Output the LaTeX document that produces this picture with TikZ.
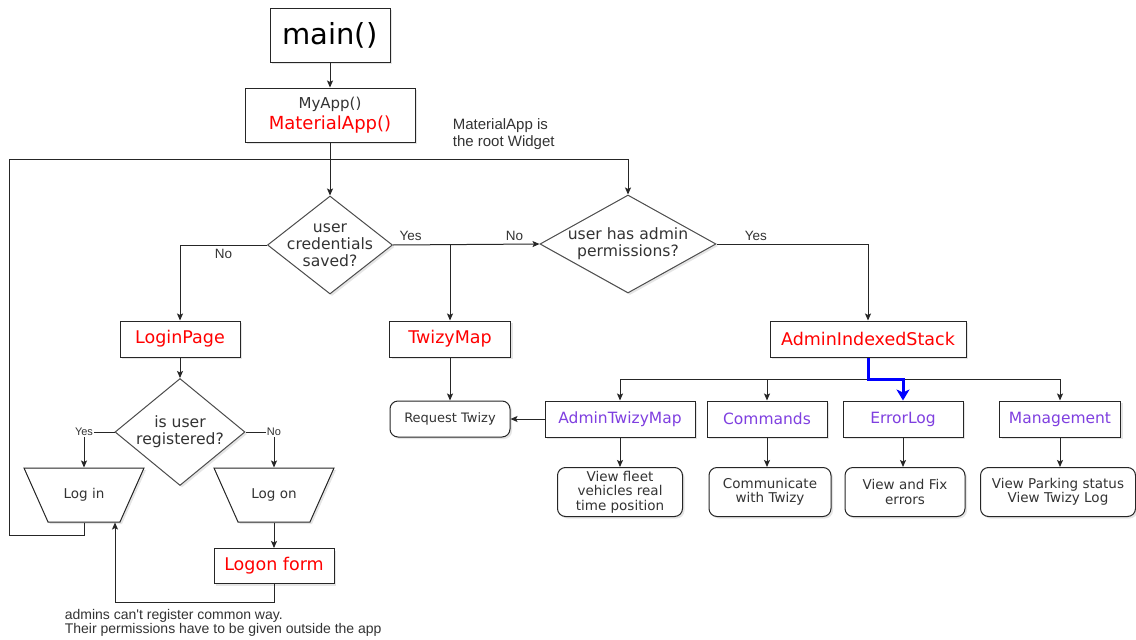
\documentclass[tikz,border=0pt]{standalone}
\usepackage{fontspec}
\setmainfont{DejaVu Sans}
\newfontfamily\notefont{Liberation Sans}
\usepackage{tikz}
\usetikzlibrary{calc,positioning,arrows.meta,shapes.geometric,shadows}
\definecolor{appRed}{HTML}{FF0000}
\definecolor{appPurple}{HTML}{7F3FE0}
\definecolor{textGray}{HTML}{333333}
\definecolor{linkBlue}{HTML}{0000FF}

\begin{document}
\begin{tikzpicture}[x=1pt, y=-1pt, line width=1pt,
            box/.style={rectangle, draw=black!85, fill=white, inner sep=0pt,
                        drop shadow={shadow xshift=2pt, shadow yshift=-2pt, opacity=0.2}},
            rbox/.style={box, rounded corners=8pt, align=center, text=textGray,
                         font=\fontsize{13.5}{14.5}\selectfont},
            redbox/.style={box, text=appRed, minimum height=36pt, font=\fontsize{17.5}{20}\selectfont},
            purbox/.style={box, text=appPurple, minimum height=36pt, font=\fontsize{15.5}{18}\selectfont},
            decision/.style={diamond, draw=black!70, fill=white, inner sep=0pt,
                        drop shadow={shadow xshift=2pt, shadow yshift=-2pt, opacity=0.2}},
            dtext/.style={align=center, text=textGray, font=\fontsize{15.6}{17}\selectfont},
            io/.style={trapezium, trapezium angle=66, trapezium stretches body, shape border rotate=180,
                       draw=black!85, fill=white, minimum width=120pt,
                       text height=10pt, text depth=3pt, inner ysep=20.5pt, inner xsep=2pt,
                       text=textGray, font=\fontsize{13.5}{16}\selectfont,
                       drop shadow={shadow xshift=2pt, shadow yshift=-2pt, opacity=0.2}},
            yn/.style={text=textGray, font=\notefont\fontsize{13.5}{16}\selectfont},
            ynsmall/.style={text=textGray, fill=white, inner sep=1pt, font=\notefont\fontsize{11}{13}\selectfont},
            note/.style={text=textGray, align=left, font=\notefont\fontsize{15}{16.5}\selectfont},
            arr/.style={draw=black!85, -{Stealth[length=7pt, width=6pt, inset=1.5pt]}},
            blink/.style={draw=linkBlue, line width=3pt, -{Stealth[length=11pt, width=13pt, inset=3pt]}}]
        \path[use as bounding box, fill=white] (0,0) rectangle (1136,640);

        % top of the app
        \node[box, minimum width=120pt, minimum height=54pt, font=\fontsize{29}{32}\selectfont] (main) at (330,35) {main()};
        \node[box, minimum width=170pt, minimum height=54pt, align=center, text=appRed,
              font=\fontsize{18}{21}\selectfont] (myapp) at (330,115)
              {{\color{textGray}\fontsize{15}{17}\selectfont MyApp()}\\MaterialApp()};
        \node[note, anchor=west] (rootnote) at (449,134) {MaterialApp is\\the root Widget};

        % decisions
        \node[decision, minimum width=125pt, minimum height=98pt,
              label={[dtext]center:user\\credentials\\saved?}] (cred) at (330,245) {};
        \node[decision, minimum width=176pt, minimum height=98pt,
              label={[dtext]center:user has admin\\permissions?}] (admin) at (628,244) {};

        % pages
        \node[redbox, minimum width=120pt] (loginpage) at (180,339) {LoginPage};
        \node[redbox, minimum width=121pt] (twizymap) at (450,339) {TwizyMap};
        \node[redbox, minimum width=196pt] (stack) at (868,339) {AdminIndexedStack};

        % admin tabs
        \node[rbox, minimum width=120pt, minimum height=36pt, font=\fontsize{13}{14}\selectfont] (reqtwizy) at (450,419) {Request Twizy};
        \node[purbox, minimum width=150pt] (atm) at (620,419) {AdminTwizyMap};
        \node[purbox, minimum width=120pt] (cmds) at (767,419) {Commands};
        \node[purbox, minimum width=120pt] (errlog) at (903,419) {ErrorLog};
        \node[purbox, minimum width=121pt] (mgmt) at (1060,419) {Management};

        \node[rbox, minimum width=125pt, minimum height=49pt] (fleet) at (620,492) {View fleet\\vehicles real\\time position};
        \node[rbox, minimum width=122pt, minimum height=49pt] (comm) at (770,492) {Communicate\\with Twizy};
        \node[rbox, minimum width=120pt, minimum height=49pt] (fixerr) at (905,492) {View and Fix\\errors};
        \node[rbox, minimum width=155pt, minimum height=49pt] (park) at (1058,492) {View Parking status\\View Twizy Log};

        % login part
        \node[decision, minimum width=130pt, minimum height=107pt,
              label={[dtext]center:is user\\registered?}] (isreg) at (180,432) {};
        \node[io] (login) at (84,495) {Log in};
        \node[io] (logon) at (274,495) {Log on};
        \node[redbox, minimum width=120pt, minimum height=35pt] (logform) at (274,566) {Logon form};
        \node[note, anchor=west, font=\notefont\fontsize{14}{13.5}\selectfont] (adminnote) at (61,623)
              {admins can't register common way.\\Their permissions have to be given outside the app};

        \coordinate (loopL) at (9,159);
        \coordinate (bus) at (0,379);

        \draw[arr] (main) -- (myapp);
        \draw[arr] (myapp) -- (cred);
        \draw[arr] (cred.west) -| node[yn, below, pos=0.25] {No} (loginpage.north);
        \draw[arr] (cred.east) -- node[yn, above, pos=0.12] {Yes} node[yn, above, pos=0.83] {No} (admin.west);
        \draw[arr] (cred.east -| twizymap) -- (twizymap);
        \draw[arr] (admin.east) -| node[yn, above, pos=0.13] {Yes} (stack.north);
        \draw[arr] (login.south) -- (login.south |- 0,535) -| (loopL) -| (admin.north);

        \draw[arr] (twizymap) -- (reqtwizy);
        \draw[arr] (atm) -- (reqtwizy);
        \draw[draw=black!85] (atm.north |- bus) -- (mgmt.north |- bus);
        \foreach \n in {atm,cmds,mgmt}
          \draw[arr] (\n.north |- bus) -- (\n.north);
        \draw[blink] (stack.south) -- (stack.south |- bus) -- (errlog.north |- bus) -- (errlog.north);
        \foreach \a/\b in {atm/fleet,cmds/comm,errlog/fixerr,mgmt/park}
          \draw[arr] (\a.south) -- (\a.south |- \b.north);

        \draw[arr] (loginpage) -- (isreg);
        \draw[arr] (isreg.west) -| node[ynsmall, pos=0.5] {Yes} (login.north);
        \draw[arr] (isreg.east) -| node[ynsmall, pos=0.5] {No} (logon.north);
        \draw[arr] (logon) -- (logform);
        \draw[arr] (logform.south) -- ++(0,18) -| ($(login.south)+(31,0)$);
      \end{tikzpicture}
\end{document}
